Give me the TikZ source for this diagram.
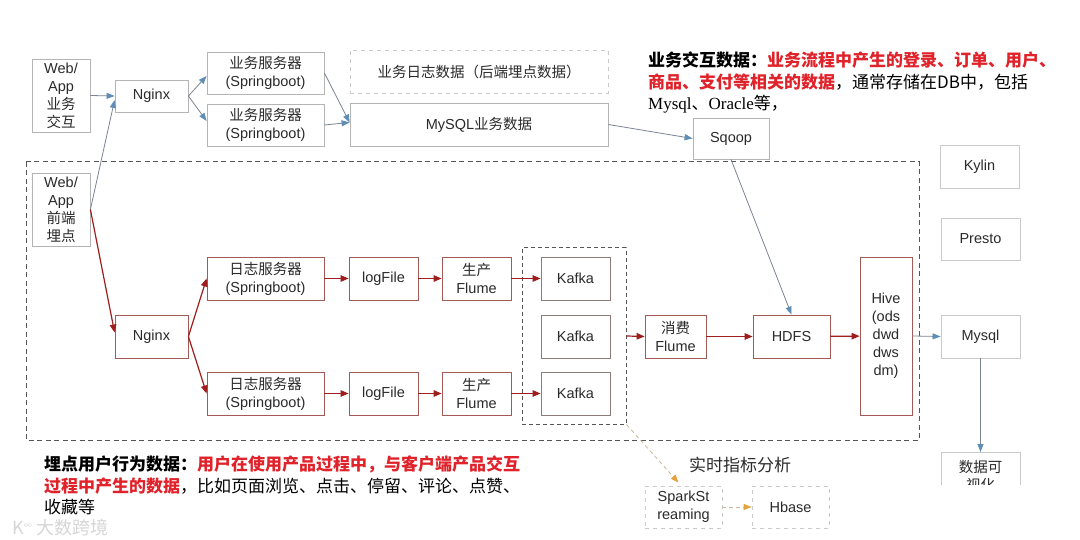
\documentclass[tikz,border=0pt]{standalone}
\usepackage{fontspec}
\setmainfont{Liberation Sans}
\newfontfamily\cjk{Noto Sans CJK SC}
\newfontfamily\cjkser{Liberation Serif}
\usetikzlibrary{arrows.meta,calc}
\definecolor{gbord}{HTML}{B4B4B4}
\definecolor{lbord}{HTML}{CACACA}
\definecolor{rbord}{HTML}{A35A55}
\definecolor{kbord}{HTML}{8E7A78}
\definecolor{txt}{HTML}{2A2A2A}
\definecolor{lgray}{HTML}{7A8492}
\definecolor{bhead}{HTML}{5E8DB5}
\definecolor{dred}{HTML}{9E1E1E}
\definecolor{hred}{HTML}{E0222A}
\definecolor{khaki}{HTML}{C9B99A}
\definecolor{ohead}{HTML}{E3A23A}
\definecolor{dgray}{HTML}{555555}
\definecolor{wmark}{HTML}{D6D6D6}
\begin{document}
\begin{tikzpicture}[x=1pt,y=-1pt,
  box/.style={draw=gbord, line width=0.8pt, inner sep=0pt, align=center, text=txt,
    font=\fontsize{14.5}{18}\selectfont},
  lbox/.style={box, draw=lbord},
  rbox/.style={box, draw=rbord},
  kbox/.style={box, draw=kbord},
  dbox/.style={box, draw=lbord, dash pattern=on 4pt off 4pt},
  sz/.style 2 args={minimum width=#1, minimum height=#2},
  barr/.style={draw=lgray, line width=0.8pt, -{Triangle[length=8pt,width=6pt,color=bhead]}},
  rarr/.style={draw=dred, line width=1.2pt, -{Triangle[length=8pt,width=6.5pt]}},
  oarr/.style={draw=khaki, line width=0.8pt, dash pattern=on 4pt off 3pt, -{Triangle[length=8pt,width=6pt,color=ohead]}},
  desc/.style={anchor=north west, align=left, inner sep=0pt, text=black,
    font=\cjk\fontsize{17}{21.5}\selectfont}
]
\useasboundingbox (0,0) rectangle (1080,540);
\fill[white] (0,0) rectangle (1080,540);

% ---------- top row (business interaction) ----------
\node[box, sz={58}{73}] (wa) at (61,95.5) {Web/\\App\\{\cjk 业务}\\{\cjk 交互}};
\node[box, sz={73}{32}] (ng1) at (151.5,96) {Nginx};
\node[box, sz={117}{42}] (ys1) at (265.5,73) {{\cjk 业务服务器}\\(Springboot)};
\node[box, sz={117}{42}] (ys2) at (265.5,125) {{\cjk 业务服务器}\\(Springboot)};
\node[dbox, sz={258}{43}] (rz) at (479,71.5) {\cjk 业务日志数据（后端埋点数据）};
\node[box, sz={258}{43}] (my) at (479,124.5) {My{SQL}{\cjk 业务数据}};
\node[box, sz={76}{41}] (sq) at (731,138.5) {Sqoop};

% ---------- description top right ----------
\node[desc] (d1) at (648,52) {\textbf{业务交互数据：}\textcolor{hred}{\textbf{业务流程中产生的登录、订单、用户、}}\\
\textcolor{hred}{\textbf{商品、支付等相关的数据}}，通常存储在DB中，包括\\
{\cjkser Mysql}、{\cjkser Oracle}等，};

% ---------- big dashed region ----------
\draw[draw=dgray, line width=1pt, dash pattern=on 5pt off 3.5pt] (26,162) rectangle (919,440);

\node[box, sz={58}{73}] (wf) at (61,209.5) {Web/\\App\\{\cjk 前端}\\{\cjk 埋点}};
\node[rbox, sz={73}{43}] (ng2) at (151.5,336.5) {Nginx};
\node[rbox, sz={117}{43}] (rzA) at (265.5,278.5) {{\cjk 日志服务器}\\(Springboot)};
\node[rbox, sz={117}{43}] (rzB) at (265.5,393.5) {{\cjk 日志服务器}\\(Springboot)};
\node[rbox, sz={69}{43}] (lfA) at (383.5,278.5) {logFile};
\node[rbox, sz={69}{43}] (lfB) at (383.5,393.5) {logFile};
\node[rbox, sz={69}{43}] (scA) at (476.5,278.5) {{\cjk 生产}\\Flume};
\node[rbox, sz={69}{43}] (scB) at (476.5,393.5) {{\cjk 生产}\\Flume};
\node[draw=dgray, line width=1pt, dash pattern=on 4pt off 3pt, sz={104}{176}, inner sep=0pt] (kg) at (574,336) {};
\node[kbox, sz={69}{43}] (k1) at (575.5,278.5) {Kafka};
\node[kbox, sz={69}{43}] (k2) at (575.5,336.5) {Kafka};
\node[kbox, sz={69}{43}] (k3) at (575.5,393.5) {Kafka};
\node[rbox, sz={61}{43}] (xf) at (675.5,336.5) {{\cjk 消费}\\Flume};
\node[rbox, sz={77}{43}] (hdfs) at (791.5,336.5) {HDFS};
\node[rbox, sz={52}{158}] (hive) at (886,336) {Hive\\(ods\\dwd\\dws\\dm)};

% ---------- right column ----------
\node[lbox, sz={79}{43}] (kylin) at (979.5,166.5) {Kylin};
\node[lbox, sz={79}{42}] (presto) at (980.5,239) {Presto};
\node[lbox, sz={79}{43}] (mysql) at (980.5,336.5) {Mysql};
\begin{scope}
  \clip (930,445) rectangle (1040,484);
  \node[lbox, sz={79}{48}, anchor=north] (vis) at (980.5,452) {{\cjk 数据可}\\{\cjk 视化}};
\end{scope}

% ---------- real-time part ----------
\node[inner sep=0pt, font=\cjk\fontsize{17}{20}\selectfont, text=txt] (rt) at (740,465) {实时指标分析};
\node[dbox, sz={77}{42}] (spark) at (683.5,507) {SparkSt\\reaming};
\node[dbox, sz={77}{42}] (hbase) at (790.5,507) {Hbase};

% ---------- description bottom left ----------
\node[desc] (d2) at (44,456) {\textbf{埋点用户行为数据：}\textcolor{hred}{\textbf{用户在使用产品过程中，与客户端产品交互}}\\
\textcolor{hred}{\textbf{过程中产生的数据}}，比如页面浏览、点击、停留、评论、点赞、\\
收藏等};

% ---------- watermark ----------
\node[inner sep=0pt, anchor=west, text=wmark, font=\cjk\fontsize{18}{20}\selectfont] (wm) at (12,528) {K\textsuperscript{\fontsize{8}{8}\selectfont ∞} 大数跨境};

% ---------- connectors: business ----------
\draw[barr] (wa.east) -- (ng1.west);
\draw[barr] (wf.east) -- ($(ng1.west)+(0,4)$);
\draw[barr] (ng1.east) -- ($(ys1.west)+(0,3)$);
\draw[barr] (ng1.east) -- ($(ys2.west)+(0,-4)$);
\draw[barr] (ys1.east) -- ($(my.west)+(0,-2)$);
\draw[barr] (ys2.east) -- ($(my.west)+(0,-2)$);
\draw[barr] (my.east) -- (sq.west);
\draw[barr] (sq.south) -- (hdfs.north);
\draw[barr] (hive.east) -- (mysql.west);
\draw[barr] (mysql.south) -- (vis.north);

% ---------- connectors: behaviour ----------
\draw[rarr] (wf.east) -- ($(ng2.west)+(0,-4)$);
\draw[rarr] (ng2.east) -- (rzA.west);
\draw[rarr] (ng2.east) -- (rzB.west);
\draw[rarr] (rzA) -- (lfA);
\draw[rarr] (rzB) -- (lfB);
\draw[rarr] (lfA) -- (scA);
\draw[rarr] (lfB) -- (scB);
\draw[rarr] (scA) -- (k1);
\draw[rarr] (scB) -- (k3);
\draw[rarr] (kg.east) -- (xf.west);
\draw[rarr] (xf) -- (hdfs);
\draw[rarr] (hdfs) -- (hive);

% ---------- connectors: real-time ----------
\draw[oarr] (kg.south east) -- ($(spark.north)+(-5,-3)$);
\draw[oarr] (spark) -- (hbase);
\end{tikzpicture}
\end{document}
